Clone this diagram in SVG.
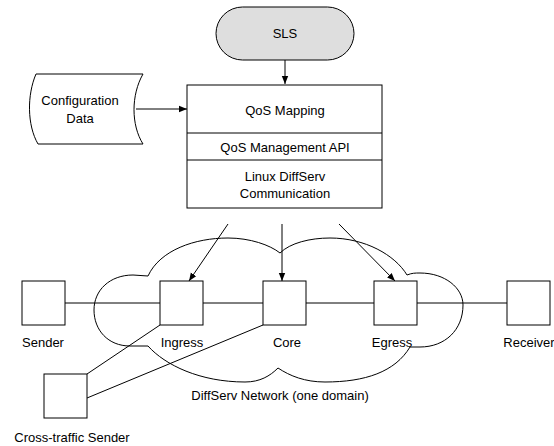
<svg xmlns="http://www.w3.org/2000/svg" width="554" height="446" viewBox="0 0 554 446">
<style>
text{font-family:"Liberation Sans",Arial,sans-serif;font-size:13px;fill:#000;text-anchor:middle}
.s{fill:#fff;stroke:#000;stroke-width:1}
.l{fill:none;stroke:#000;stroke-width:1}
.a{fill:none;stroke:#000;stroke-width:1;marker-end:url(#ah)}
</style>
<defs>
<marker id="ah" viewBox="0 0 10 10" refX="10" refY="5" markerWidth="8" markerHeight="8" markerUnits="userSpaceOnUse" orient="auto">
<path d="M0,1 L10,5 L0,9 Z" fill="#000"/>
</marker>
</defs>
<g id="cloud">
<path class="l" d="M148,276 C160,250 195,238 228,238 C250,238 270,245 280,253 C290,243 310,238 330,238 C365,238 395,255 407,275 C412,273 415,273 420,273 C445,273 463,288 463,305 C463,330 445,347 420,347 L410,347 C395,372 365,382 325,382 C305,382 290,376 278,368 C270,376 260,382 245,382 C200,382 165,365 148,346 L130,346 C108,346 94,330 94,310 C94,290 110,275 133,275 Z"/>
<text x="280" y="400">DiffServ Network (one domain)</text>
</g>
<g id="connectors">
<line class="l" x1="65" y1="303" x2="507" y2="303"/>
<line class="l" x1="87" y1="374" x2="160" y2="325"/>
<line class="l" x1="87" y1="398" x2="263" y2="325"/>
<line class="a" x1="285" y1="60" x2="285" y2="84"/>
<line class="a" x1="136" y1="109" x2="187" y2="109"/>
<line class="a" x1="228" y1="224" x2="189" y2="281"/>
<line class="a" x1="282" y1="224" x2="282" y2="281"/>
<line class="a" x1="339" y1="224" x2="395" y2="281"/>
</g>
<g id="sls">
<rect x="216" y="7" width="138" height="53" rx="26.5" ry="26.5" fill="#dedede" stroke="#000"/>
<text x="285" y="38">SLS</text>
</g>
<g id="config">
<path class="s" d="M36,74 L143,74 C131,95 131,125 143,144 L38,144 C27,125 27,95 36,74 Z"/>
<text x="80" y="105">Configuration</text>
<text x="80" y="123">Data</text>
</g>
<g id="qos">
<rect class="s" x="187" y="85" width="195" height="123"/>
<line class="l" x1="187" y1="133" x2="382" y2="133"/>
<line class="l" x1="187" y1="160" x2="382" y2="160"/>
<text x="285" y="115">QoS Mapping</text>
<text x="285" y="152">QoS Management API</text>
<text x="285" y="181">Linux DiffServ</text>
<text x="285" y="198">Communication</text>
</g>
<g id="sender">
<rect class="s" x="22" y="281" width="43" height="44"/>
<text x="43" y="347">Sender</text>
</g>
<g id="ingress">
<rect class="s" x="160" y="281" width="43" height="44"/>
<text x="182" y="347">Ingress</text>
</g>
<g id="core">
<rect class="s" x="263" y="281" width="43" height="44"/>
<text x="287" y="347">Core</text>
</g>
<g id="egress">
<rect class="s" x="374" y="281" width="43" height="44"/>
<text x="392" y="347">Egress</text>
</g>
<g id="receiver">
<rect class="s" x="507" y="281" width="43" height="44"/>
<text x="529" y="347">Receiver</text>
</g>
<g id="cross">
<rect class="s" x="44" y="374" width="43" height="44"/>
<text x="72" y="442">Cross-traffic Sender</text>
</g>
</svg>
